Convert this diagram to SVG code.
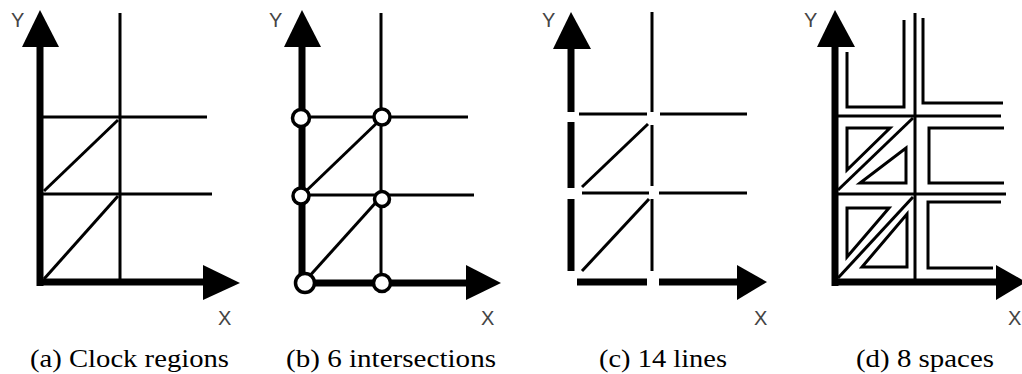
<svg xmlns="http://www.w3.org/2000/svg" width="1022" height="374" viewBox="0 0 1022 374">
<style>
.axis{stroke:#000;stroke-width:7;fill:none}
.thin{stroke:#000;stroke-width:3;fill:none}
.ol{stroke:#000;stroke-width:3;fill:none;stroke-linejoin:miter}
.head{fill:#000}
.node{fill:#fff;stroke:#000;stroke-width:3.5}
.lbl{font-family:"Liberation Sans",Arial,sans-serif;font-size:20px;fill:#444}
.cap{font-family:"Liberation Serif","Times New Roman",serif;font-size:25px;fill:#000}
</style>
<rect width="1022" height="374" fill="#fff"/>

<g id="panel-a">
  <g id="a-connectors">
    <line class="axis" x1="40" y1="286" x2="40" y2="40"/>
    <line class="axis" x1="37" y1="282" x2="210" y2="282"/>
    <line class="thin" x1="120" y1="13" x2="120" y2="282"/>
    <line class="thin" x1="43" y1="117" x2="207" y2="117"/>
    <line class="thin" x1="43" y1="194" x2="212" y2="194"/>
    <line class="thin" x1="44" y1="279" x2="118" y2="196"/>
    <line class="thin" x1="44" y1="191" x2="118" y2="120"/>
    <polygon class="head" points="40,10 59,47 22,47"/>
    <polygon class="head" points="240,283 203,265 203,300"/>
  </g>
  <text class="lbl" x="11" y="27">Y</text>
  <text class="lbl" x="218" y="325">X</text>
  <text class="cap" x="30" y="367" textLength="199" lengthAdjust="spacingAndGlyphs">(a) Clock regions</text>
</g>

<g id="panel-b">
  <g id="b-connectors">
    <line class="axis" x1="302" y1="286" x2="302" y2="40"/>
    <line class="axis" x1="299" y1="283" x2="470" y2="283"/>
    <line class="thin" x1="381" y1="13" x2="381" y2="283"/>
    <line class="thin" x1="304" y1="117" x2="468" y2="117"/>
    <line class="thin" x1="304" y1="195" x2="474" y2="195"/>
    <line class="thin" x1="306" y1="280" x2="379" y2="199"/>
    <line class="thin" x1="304" y1="193" x2="380" y2="120"/>
    <polygon class="head" points="302,10 321,47 284,47"/>
    <polygon class="head" points="501,283 466,265 466,300"/>
  </g>
  <g id="b-nodes">
    <circle class="node" cx="301" cy="118" r="8.5"/>
    <circle class="node" cx="382" cy="117" r="8"/>
    <circle class="node" cx="301" cy="196" r="8"/>
    <circle class="node" cx="382" cy="199" r="7.5"/>
    <circle class="node" cx="305" cy="283" r="9.5"/>
    <circle class="node" cx="382" cy="283" r="8.5"/>
  </g>
  <text class="lbl" x="269" y="27">Y</text>
  <text class="lbl" x="481" y="325">X</text>
  <text class="cap" x="286" y="367" textLength="210" lengthAdjust="spacingAndGlyphs">(b) 6 intersections</text>
</g>

<g id="panel-c">
  <g id="c-connectors">
    <line class="axis" x1="571" y1="40" x2="571" y2="112"/>
    <line class="axis" x1="571" y1="122" x2="571" y2="188"/>
    <line class="axis" x1="571" y1="199" x2="571" y2="271"/>
    <line class="axis" x1="577" y1="282" x2="647" y2="282"/>
    <line class="axis" x1="659" y1="282" x2="740" y2="282"/>
    <line class="thin" x1="652" y1="12" x2="652" y2="112"/>
    <line class="thin" x1="652" y1="125" x2="652" y2="186"/>
    <line class="thin" x1="652" y1="199" x2="652" y2="271"/>
    <line class="thin" x1="579" y1="114" x2="647" y2="114"/>
    <line class="thin" x1="660" y1="114" x2="747" y2="114"/>
    <line class="thin" x1="582" y1="193" x2="649" y2="193"/>
    <line class="thin" x1="659" y1="193" x2="747" y2="193"/>
    <line class="thin" x1="582" y1="187" x2="648" y2="124"/>
    <line class="thin" x1="582" y1="271" x2="649" y2="199"/>
    <polygon class="head" points="571,12 591,49 553,49"/>
    <polygon class="head" points="767,282 737,265 737,300"/>
  </g>
  <text class="lbl" x="542" y="27">Y</text>
  <text class="lbl" x="754" y="325">X</text>
  <text class="cap" x="599" y="367" textLength="128" lengthAdjust="spacingAndGlyphs">(c) 14 lines</text>
</g>

<g id="panel-d">
  <g id="d-connectors">
    <line class="axis" x1="835" y1="286" x2="835" y2="40"/>
    <line class="axis" x1="832" y1="282" x2="1000" y2="282"/>
    <line class="thin" x1="915" y1="13" x2="915" y2="282"/>
    <line class="thin" x1="837" y1="116" x2="1001" y2="116"/>
    <line class="thin" x1="837" y1="194" x2="1006" y2="194"/>
    <line class="thin" x1="838" y1="190" x2="913" y2="118"/>
    <line class="thin" x1="838" y1="278" x2="913" y2="197"/>
    <polygon class="head" points="835,10 855,47 817,47"/>
    <polygon class="head" points="1026,282 996,265 996,300"/>
  </g>
  <g id="d-spaces">
    <polyline id="space1" class="ol" points="847,52 847,107 904,107 904,20"/>
    <polyline id="space2" class="ol" points="923,18 923,103 1003,103"/>
    <polygon id="space3" class="ol" points="847,128 890,128 847,170"/>
    <polygon id="space4" class="ol" points="906,148 906,183 860,183"/>
    <polyline id="space5" class="ol" points="1004,128 929,128 929,183 1004,183"/>
    <polygon id="space6" class="ol" points="847,208 889,208 847,257"/>
    <polygon id="space7" class="ol" points="907,214 907,267 862,267"/>
    <polyline id="space8" class="ol" points="1001,202 928,202 928,268 993,268"/>
  </g>
  <text class="lbl" x="804" y="27">Y</text>
  <text class="lbl" x="1008" y="325">X</text>
  <text class="cap" x="856" y="367" textLength="138" lengthAdjust="spacingAndGlyphs">(d) 8 spaces</text>
</g>
</svg>
